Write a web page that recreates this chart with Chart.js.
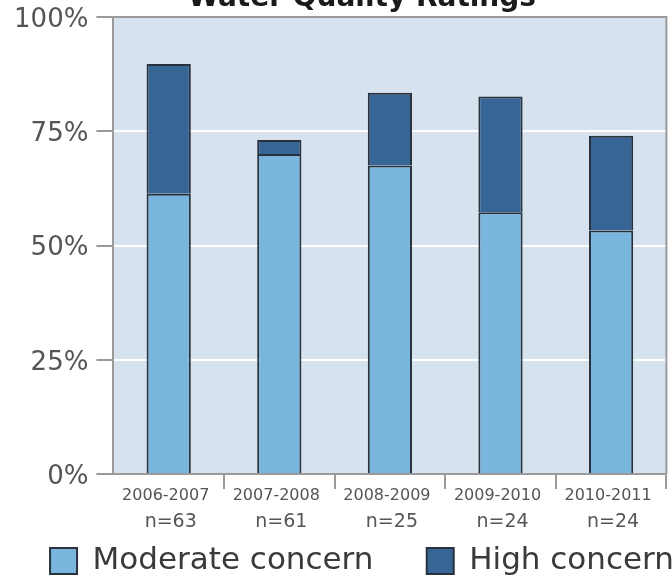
<!DOCTYPE html>
<html>
<head>
<meta charset="utf-8">
<script src="https://cdn.jsdelivr.net/npm/chart.js@4/dist/chart.umd.min.js"></script>
<style>
  html, body { margin: 0; padding: 0; background: #fff; overflow: hidden; width: 672px; height: 579px; }
  #wrap { position: relative; width: 672px; height: 579px; overflow: hidden; }
  #c { position: absolute; left: 0; top: -22px; width: 724px; height: 620px; }
</style>
</head>
<body>
<div id="wrap"><canvas id="c" width="724" height="620"></canvas></div>
<script>
// Survey seasons and the number of sites rated in each
const seasons = ['2006-2007', '2007-2008', '2008-2009', '2009-2010', '2010-2011'];
const sampleSizes = ['n=63', 'n=61', 'n=25', 'n=24', 'n=24'];

// Share of sites (%) in each rating class
const moderateConcern = [61.3, 70.0, 67.5, 57.3, 53.3];
const highConcern = [28.4, 3.1, 15.9, 25.3, 20.7];

// Value axis ticks (%)
const percentTicks = [0, 25, 50, 75, 100];

const FONT = 'DejaVu Sans';
const AXIS_GREY = '#9a9a9a';
const TEXT_GREY = '#555555';
const CANVAS_W = 724;
const PLOT_LEFT = 113.4;
const PLOT_RIGHT = 666.4;

// Plot background panel and its top/right frame
const plotFrame = {
  id: 'plotFrame',
  beforeDraw(chart) {
    const { ctx, chartArea: a } = chart;
    ctx.save();
    ctx.fillStyle = '#d6e2ee';
    ctx.fillRect(a.left, a.top, a.width, a.height);
    ctx.restore();
  },
  beforeDatasetsDraw(chart) {
    const { ctx, chartArea: a } = chart;
    ctx.save();
    ctx.strokeStyle = AXIS_GREY;
    ctx.lineWidth = 2;
    ctx.beginPath();
    ctx.moveTo(a.left, a.top);
    ctx.lineTo(a.right, a.top);
    ctx.lineTo(a.right, a.bottom);
    ctx.stroke();
    ctx.restore();
  }
};

new Chart(document.getElementById('c'), {
  type: 'bar',
  data: {
    labels: seasons,
    datasets: [
      {
        label: 'Moderate concern',
        data: moderateConcern,
        backgroundColor: '#79b5dc',
        borderColor: '#29323c',
        borderWidth: 2,
        barPercentage: 0.4,
        categoryPercentage: 1,
        xAxisID: 'x',
        yAxisID: 'y'
      },
      {
        label: 'High concern',
        data: highConcern,
        backgroundColor: '#366596',
        borderColor: '#29323c',
        borderWidth: 2,
        barPercentage: 0.4,
        categoryPercentage: 1,
        xAxisID: 'x',
        yAxisID: 'y'
      }
    ]
  },
  options: {
    responsive: false,
    animation: false,
    devicePixelRatio: 1,
    layout: { padding: { left: 0, right: 0, top: 0, bottom: 11.5 } },
    scales: {
      x: {
        stacked: true,
        offset: true,
        grid: {
          offset: true,
          drawOnChartArea: false,
          drawTicks: true,
          tickLength: 15,
          lineWidth: 2,
          tickColor: (c) => (c.index === 0 ? 'rgba(0,0,0,0)' : AXIS_GREY)
        },
        border: { color: AXIS_GREY, width: 2 },
        ticks: {
          font: { family: FONT, size: 16 },
          color: TEXT_GREY,
          padding: -3,
          labelOffset: -3,
          maxRotation: 0,
          autoSkip: false
        },
        afterFit: (s) => { s.height = 31; }
      },
      x2: {
        type: 'category',
        labels: sampleSizes,
        position: 'bottom',
        offset: true,
        grid: { display: false, drawTicks: false },
        border: { display: false },
        ticks: {
          font: { family: FONT, size: 19 },
          color: TEXT_GREY,
          padding: 6,
          labelOffset: 2,
          maxRotation: 0,
          autoSkip: false
        },
        afterFit: (s) => { s.height = 36.5; }
      },
      y: {
        stacked: true,
        min: 0,
        max: 100,
        afterBuildTicks: (s) => { s.ticks = percentTicks.map((v) => ({ value: v })); },
        grid: {
          color: (c) => (c.tick && (c.tick.value === 0 || c.tick.value === 100) ? 'rgba(0,0,0,0)' : '#ffffff'),
          tickColor: AXIS_GREY,
          lineWidth: 2,
          tickLength: 17
        },
        border: { color: AXIS_GREY, width: 2 },
        ticks: {
          font: { family: FONT, size: 26 },
          color: TEXT_GREY,
          padding: 8,
          labelOffset: 3,
          callback: (v) => v + '%'
        },
        afterFit: (s) => { s.width = PLOT_LEFT; }
      },
      yPad: {
        type: 'linear',
        position: 'right',
        display: true,
        grid: { display: false, drawTicks: false },
        border: { display: false },
        ticks: { display: false },
        afterFit: (s) => { s.width = CANVAS_W - PLOT_RIGHT; }
      }
    },
    plugins: {
      title: {
        display: true,
        text: 'Water Quality Ratings',
        color: '#1a1a1a',
        font: { family: FONT, size: 28, weight: 'bold' },
        padding: { top: 4, bottom: 1.4 }
      },
      legend: {
        position: 'bottom',
        align: 'center',
        labels: {
          boxWidth: 27,
          boxHeight: 26,
          padding: 4,
          color: '#3a3a3a',
          font: { family: FONT, size: 31 },
          generateLabels: (chart) => {
            const items = Chart.defaults.plugins.legend.labels.generateLabels(chart);
            items[0].text = items[0].text + '     ';
            return items;
          }
        }
      },
      tooltip: { enabled: false }
    }
  },
  plugins: [plotFrame]
});
</script>
</body>
</html>
